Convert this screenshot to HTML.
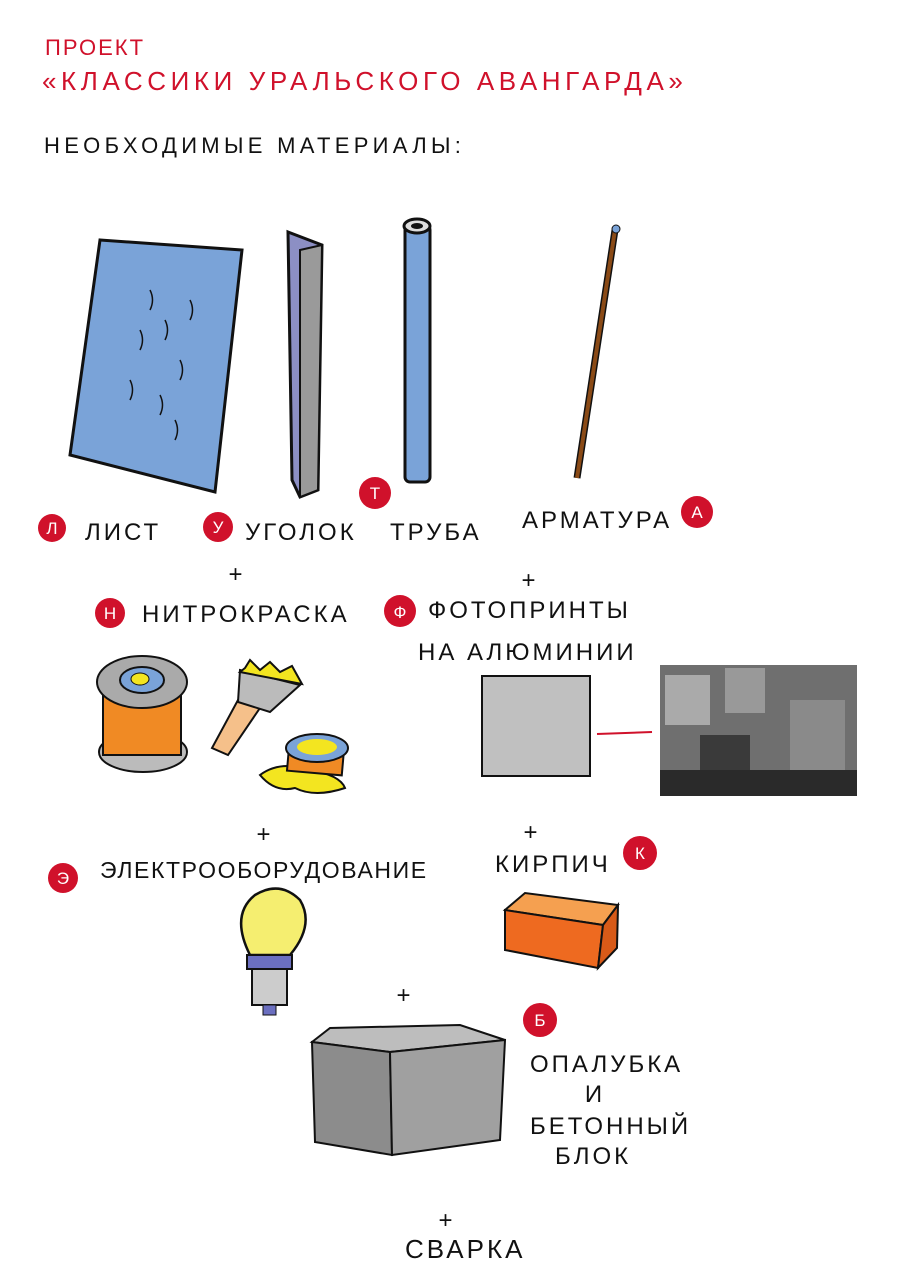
<!DOCTYPE html>
<html><head><meta charset="utf-8"><style>
html,body{margin:0;padding:0;background:#fff}
svg{display:block}
text{font-family:"Liberation Sans","DejaVu Sans",sans-serif}
.r{fill:#d0112b}
.k{fill:#111}
.c{fill:#d0112b}
.cl{fill:#fff;font-size:17px;text-anchor:middle}
.lb{font-size:24px;letter-spacing:3px;fill:#111}
</style></head><body>
<svg width="900" height="1288" viewBox="0 0 900 1288" xmlns="http://www.w3.org/2000/svg">
<text x="45" y="55" class="r" font-size="22" letter-spacing="2">ПРОЕКТ</text>
<text x="42" y="90" class="r" font-size="26" letter-spacing="4.6">«КЛАССИКИ УРАЛЬСКОГО АВАНГАРДА»</text>
<text x="44" y="153" class="k" font-size="22" letter-spacing="4.3">НЕОБХОДИМЫЕ МАТЕРИАЛЫ:</text>

<polygon points="100,240 242,250 215,492 70,455" fill="#7aa3d8" stroke="#111" stroke-width="3"/>
<g stroke="#111" stroke-width="1.5" fill="none">
<path d="M150,290 q5,10 0,20 M165,320 q5,10 0,20 M140,330 q5,10 0,20 M180,360 q5,10 0,20 M130,380 q5,10 0,20 M160,395 q5,10 0,20 M190,300 q5,10 0,20 M175,420 q5,10 0,20"/>
</g>
<polygon points="288,232 322,245 318,490 300,497 292,480" fill="#8c8fc4" stroke="#111" stroke-width="3"/>
<polygon points="300,250 322,245 318,490 300,497" fill="#9a9a9a" stroke="#111" stroke-width="2"/>
<rect x="405" y="225" width="25" height="257" rx="5" fill="#7aa3d8" stroke="#111" stroke-width="3"/>
<ellipse cx="417" cy="226" rx="13" ry="7" fill="#ddd" stroke="#111" stroke-width="3"/>
<ellipse cx="417" cy="226" rx="6" ry="3" fill="#111"/>
<line x1="615" y1="230" x2="577" y2="478" stroke="#111" stroke-width="7"/>
<line x1="615" y1="230" x2="577" y2="478" stroke="#8a4a16" stroke-width="4"/>
<circle cx="616" cy="229" r="4" fill="#7aa3d8" stroke="#111"/>

<circle cx="52" cy="528" r="14" class="c"/><text x="52" y="534" class="cl">Л</text>
<circle cx="218" cy="527" r="15" class="c"/><text x="218" y="533" class="cl">У</text>
<circle cx="375" cy="493" r="16" class="c"/><text x="375" y="499" class="cl">Т</text>
<circle cx="697" cy="512" r="16" class="c"/><text x="697" y="518" class="cl">А</text>
<text x="85" y="540" class="lb">ЛИСТ</text>
<text x="245" y="540" class="lb">УГОЛОК</text>
<text x="390" y="540" class="lb">ТРУБА</text>
<text x="522" y="528" class="lb">АРМАТУРА</text>
<text x="237" y="582" class="lb" text-anchor="middle">+</text>
<text x="530" y="588" class="lb" text-anchor="middle">+</text>

<circle cx="110" cy="613" r="15" class="c"/><text x="110" y="619" class="cl">Н</text>
<text x="142" y="622" class="lb">НИТРОКРАСКА</text>
<circle cx="400" cy="611" r="16" class="c"/><text x="400" y="618" class="cl">Ф</text>
<text x="428" y="618" class="lb">ФОТОПРИНТЫ</text>
<text x="418" y="660" class="lb">НА АЛЮМИНИИ</text>

<ellipse cx="143" cy="752" rx="44" ry="20" fill="#bbb" stroke="#111" stroke-width="2"/>
<rect x="103" y="685" width="78" height="70" fill="#f08a24" stroke="#111" stroke-width="2"/>
<ellipse cx="142" cy="682" rx="45" ry="26" fill="#aaa" stroke="#111" stroke-width="2"/>
<ellipse cx="142" cy="680" rx="22" ry="13" fill="#7aa3d8" stroke="#111" stroke-width="2"/>
<ellipse cx="140" cy="679" rx="9" ry="6" fill="#f3e520" stroke="#111"/>
<polygon points="238,700 262,705 228,755 212,748" fill="#f5c08a" stroke="#111" stroke-width="2"/>
<polygon points="240,670 300,685 270,712 238,702" fill="#bbb" stroke="#111" stroke-width="2"/>
<polygon points="245,668 250,660 260,670 270,662 280,672 292,666 302,684 240,672" fill="#f3e520" stroke="#111" stroke-width="2"/>
<path d="M260,775 q20,-15 50,-5 q30,5 35,18 q-30,10 -50,0 q-20,5 -35,-13z" fill="#f3e520" stroke="#111" stroke-width="2"/>
<rect x="288" y="748" width="55" height="25" fill="#f08a24" stroke="#111" stroke-width="2" transform="rotate(5 315 760)"/>
<ellipse cx="317" cy="748" rx="31" ry="14" fill="#7aa3d8" stroke="#111" stroke-width="2"/>
<ellipse cx="317" cy="747" rx="20" ry="8" fill="#f3e520"/>

<rect x="482" y="676" width="108" height="100" fill="#c0c0c0" stroke="#111" stroke-width="2"/>
<line x1="597" y1="734" x2="652" y2="732" stroke="#d0112b" stroke-width="2"/>
<rect x="660" y="665" width="197" height="131" fill="#6f6f6f"/>
<rect x="665" y="675" width="45" height="50" fill="#aaa"/><rect x="725" y="668" width="40" height="45" fill="#999"/>
<rect x="700" y="735" width="50" height="55" fill="#3a3a3a"/><rect x="790" y="700" width="55" height="70" fill="#8a8a8a"/>
<rect x="660" y="770" width="197" height="26" fill="#2a2a2a"/>

<text x="265" y="842" class="lb" text-anchor="middle">+</text>
<text x="532" y="840" class="lb" text-anchor="middle">+</text>
<circle cx="63" cy="878" r="15" class="c"/><text x="63" y="884" class="cl">Э</text>
<text x="100" y="878" class="lb" style="letter-spacing:1.6px;font-size:23px">ЭЛЕКТРООБОРУДОВАНИЕ</text>
<text x="495" y="872" class="lb">КИРПИЧ</text>
<circle cx="640" cy="853" r="17" class="c"/><text x="640" y="859" class="cl">К</text>

<path d="M250,955 q-20,-40 5,-60 q25,-15 45,5 q15,25 -10,55z" fill="#f5ee70" stroke="#111" stroke-width="2.5"/>
<rect x="247" y="955" width="45" height="14" fill="#6b6fc0" stroke="#111" stroke-width="2"/>
<rect x="252" y="969" width="35" height="36" fill="#ccc" stroke="#111" stroke-width="2"/>
<rect x="263" y="1005" width="13" height="10" fill="#6b6fc0" stroke="#111"/>
<polygon points="505,910 525,893 618,905 603,925" fill="#f5a050" stroke="#111" stroke-width="2"/>
<polygon points="505,910 603,925 598,968 505,950" fill="#ee6a20" stroke="#111" stroke-width="2"/>
<polygon points="603,925 618,905 617,948 598,968" fill="#d85a18" stroke="#111" stroke-width="2"/>

<text x="405" y="1003" class="lb" text-anchor="middle">+</text>
<circle cx="540" cy="1020" r="17" class="c"/><text x="540" y="1026" class="cl">Б</text>
<polygon points="312,1042 330,1028 460,1025 505,1040 390,1052" fill="#bdbdbd" stroke="#111" stroke-width="2"/>
<polygon points="312,1042 390,1052 392,1155 315,1142" fill="#8c8c8c" stroke="#111" stroke-width="2"/>
<polygon points="390,1052 505,1040 500,1140 392,1155" fill="#a0a0a0" stroke="#111" stroke-width="2"/>
<text x="530" y="1072" class="lb">ОПАЛУБКА</text>
<text x="595" y="1102" class="lb" text-anchor="middle">И</text>
<text x="530" y="1134" class="lb">БЕТОННЫЙ</text>
<text x="555" y="1164" class="lb">БЛОК</text>
<text x="447" y="1228" class="lb" text-anchor="middle">+</text>
<text x="405" y="1258" class="lb" style="font-size:26px">СВАРКА</text>
</svg>
</body></html>
